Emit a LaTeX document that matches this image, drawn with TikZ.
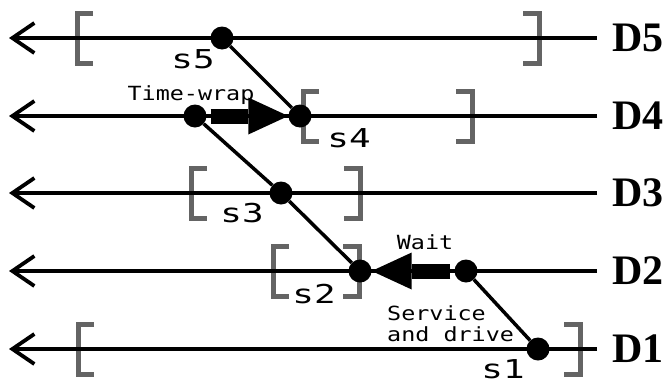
\documentclass[tikz,border=0pt]{standalone}
\usepackage{fontspec}
\usetikzlibrary{arrows.meta}
\setmainfont{Liberation Serif}
\newfontfamily\smono[FakeStretch=1.38]{DejaVu Sans Mono}
\newfontfamily\tmono[FakeStretch=1.2]{DejaVu Sans Mono}
\definecolor{bgray}{RGB}{100,100,100}
\begin{document}
\begin{tikzpicture}[x=1pt,y=-1pt,
  lane/.style={line width=3.8pt, -{Straight Barb[length=22pt,width=30pt]}},
  brk/.style={line width=5pt, draw=bgray},
  dot/.style={circle, fill=black, inner sep=0pt, minimum size=23pt},
  link/.style={line width=3.5pt},
  fat/.style={line width=15pt, -{Triangle[length=40pt,width=37pt,line width=0pt]}},
  dlab/.style={font=\fontsize{42}{42}\selectfont\bfseries, anchor=west, inner ysep=0pt, inner xsep=15pt},
  slab/.style={font=\smono\fontsize{26}{26}\selectfont, inner sep=0pt, anchor=base},
  tlab/.style={font=\tmono\fontsize{19.5}{21}\selectfont, inner sep=0pt, align=left}]
\useasboundingbox (0,0) rectangle (671,383);

% brackets
\foreach \x/\y in {77/38, 303/116, 191/193, 273/271, 78/349}
  \draw[brk] (\x+16,\y-25) -- (\x,\y-25) -- (\x,\y+25) -- (\x+16,\y+25);
\foreach \x/\y in {539/38, 472/116, 360/193, 359/271, 580/349}
  \draw[brk] (\x-16,\y-25) -- (\x,\y-25) -- (\x,\y+25) -- (\x-16,\y+25);

% lane labels and free ends
\node[dlab] (D5) at (597,38) {D5};
\node[dlab] (D4) at (597,116) {D4};
\node[dlab] (D3) at (597,193) {D3};
\node[dlab] (D2) at (597,271) {D2};
\node[dlab] (D1) at (597,349) {D1};
\coordinate (w5) at (9,38);
\coordinate (w4) at (9,116);
\coordinate (w3) at (9,193);
\coordinate (w2) at (9,271);
\coordinate (w1) at (9,349);
\foreach \i in {1,...,5}
  \draw[lane] (D\i) -- (w\i);

% dots
\node[dot] (s5) at (222,38) {};
\node[dot] (t4) at (195,116) {};
\node[dot] (s4) at (300,116) {};
\node[dot] (s3) at (281,193) {};
\node[dot] (s2) at (360,271) {};
\node[dot] (t2) at (466,271) {};
\node[dot] (s1) at (538,349) {};

% links
\draw[link] (s5) -- (s4);
\draw[link] (t4) -- (s3) -- (s2);
\draw[link] (t2) -- (s1);

% thick arrows
\draw[fat, shorten <=4pt] (t4) -- (s4);
\draw[fat, shorten <=4pt] (t2) -- (s2);

% labels
\node[slab] (l5) at (193,68) {s5};
\node[slab] (l4) at (349,147) {s4};
\node[slab] (l3) at (242,222) {s3};
\node[slab] (l2) at (314,303) {s2};
\node[slab] (l1) at (503,378) {s1};
\node[tlab, anchor=base] (tw) at (191,100) {Time-wrap};
\node[tlab, anchor=base] (wt) at (425,249) {Wait};
\node[tlab, anchor=north west] (sd) at (387,305) {Service\\and drive};
\end{tikzpicture}
\end{document}
